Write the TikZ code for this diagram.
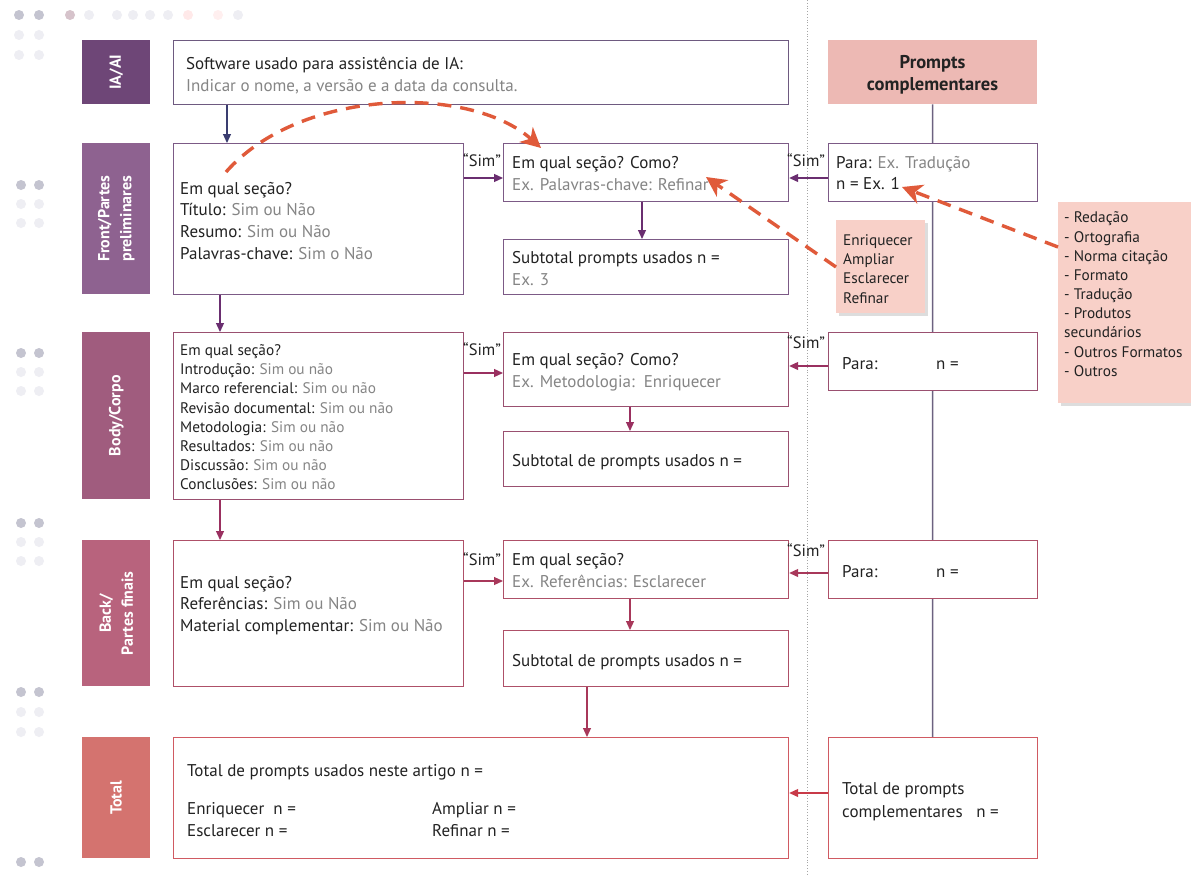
\documentclass[tikz,border=0pt]{standalone}
\usepackage{fontspec}
\setmainfont{PT Sans}
\usetikzlibrary{arrows.meta,shadows,backgrounds}
\definecolor{cIA}{HTML}{6E4677}
\definecolor{cFront}{HTML}{8E6290}
\definecolor{cBody}{HTML}{A05C7E}
\definecolor{cBack}{HTML}{B8637D}
\definecolor{cTotal}{HTML}{D4736F}
\definecolor{bIA}{HTML}{6E5A80}
\definecolor{bFront}{HTML}{7C5A86}
\definecolor{bBody}{HTML}{9A5070}
\definecolor{bBack}{HTML}{AE5068}
\definecolor{bTotal}{HTML}{D05A62}
\definecolor{aNavy}{HTML}{3A3D70}
\definecolor{aFront}{HTML}{6A2E70}
\definecolor{aBody}{HTML}{9A3060}
\definecolor{aBack}{HTML}{A8385A}
\definecolor{aTotal}{HTML}{C83A48}
\definecolor{pinkhead}{HTML}{EDB9B4}
\definecolor{pinkcall}{HTML}{F8D0C8}
\definecolor{grytxt}{HTML}{858585}
\definecolor{txtc}{HTML}{222222}
\definecolor{redarrow}{HTML}{E05A3A}
\definecolor{vline}{HTML}{6C6280}
\definecolor{dotc}{HTML}{C4C4D0}
\definecolor{dotf}{HTML}{EEEEF3}
\newcommand\gr[1]{\textcolor{grytxt}{#1}}
\begin{document}
\begin{tikzpicture}[x=1pt,y=-1pt,
 box/.style={draw, line width=1.2pt, fill=white, inner sep=0pt, anchor=north west},
 bar/.style={inner sep=0pt, anchor=north west, minimum width=68pt},
 barlbl/.style={rotate=90, text=white, font=\fontsize{16}{22}\selectfont\bfseries, align=center, inner sep=0pt},
 t/.style={anchor=base west, inner sep=0pt, font=\fontsize{17}{20}\selectfont, text=txtc},
 ts/.style={anchor=base west, inner sep=0pt, font=\fontsize{15.3}{18}\selectfont, text=txtc},
 conn/.style={line width=1.2pt, -{Triangle[length=9pt,width=8pt]}},
 redarr/.style={draw=redarrow, line width=3.4pt, dash pattern=on 14pt off 9pt, -{Stealth[length=20pt,width=20pt,inset=6pt]}},
 callout/.style={fill=pinkcall, inner sep=0pt, anchor=north west, drop shadow={shadow xshift=3pt, shadow yshift=-3pt, opacity=0.22, fill=black!60}},
 simlbl/.style={anchor=base west, inner sep=0pt, font=\fontsize{16.5}{19}\selectfont, text=txtc},
 dot/.style={fill=dotc, draw=none},
 fdot/.style={fill=dotf, draw=none}
]
\useasboundingbox (0,0) rectangle (1191,875);
\fill[white] (0,0) rectangle (1191,875);

% decorative dots
\foreach \yy in {185,353,523,692,862}{
  \fill[dot] (21,\yy) circle (5pt); \fill[dot] (39,\yy) circle (5pt);
}
\foreach \yy in {204,223,372,391,542,561,712,732}{
  \fill[fdot] (21,\yy) circle (5pt); \fill[fdot] (39,\yy) circle (5pt);
}
\fill[dot] (19,15) circle (5pt); \fill[dot] (39,15) circle (5pt);
\fill[fdot] (19,35) circle (5pt); \fill[fdot] (39,35) circle (5pt);
\fill[fdot] (19,55) circle (5pt); \fill[fdot] (39,55) circle (5pt);
\fill[dotc!70!pink] (70,15) circle (5pt);
\fill[fdot] (89,15) circle (5pt);
\fill[fdot] (117,15) circle (5pt); \fill[fdot] (133,15) circle (5pt);
\fill[fdot] (150,15) circle (5pt); \fill[fdot] (168,15) circle (5pt);
\fill[pink!35] (188,15) circle (5pt);
\fill[pink!25] (218,15) circle (5pt);
\fill[fdot] (238,15) circle (5pt);
\fill[white] (0,0) rectangle (260,10);

% dotted separator
\coordinate (sepTop) at (807,0);
\coordinate (sepBot) at (807,875);
\draw[gray!70, dotted, line width=0.8pt] (sepTop) -- (sepBot);

% left bars
\node[bar, fill=cIA, minimum height=64pt] (barIA) at (82,40) {};
\node[bar, fill=cFront, minimum height=151pt] (barFront) at (82,143) {};
\node[bar, fill=cBody, minimum height=167pt] (barBody) at (82,332) {};
\node[bar, fill=cBack, minimum height=146pt] (barBack) at (82,540) {};
\node[bar, fill=cTotal, minimum height=121pt] (barTotal) at (82,737) {};
\node[barlbl] (lIA) at (barIA.center) {IA/AI};
\node[barlbl] (lFront) at (barFront.center) {Front/Partes\\preliminares};
\node[barlbl] (lBody) at (barBody.center) {Body/Corpo};
\node[barlbl] (lBack) at (barBack.center) {Back/\\Partes finais};
\node[barlbl] (lTotal) at (barTotal.center) {Total};

% header right
\node[anchor=north west, fill=pinkhead, minimum width=209pt, minimum height=64pt, inner sep=0pt] (head) at (828,40) {};
\node[anchor=base, inner sep=0pt, font=\fontsize{18.5}{21}\selectfont\bfseries, text=txtc] (head1) at (932.5,68) {Prompts};
\node[anchor=base, inner sep=0pt, font=\fontsize{18.5}{21}\selectfont\bfseries, text=txtc] (head2) at (932.5,90) {complementares};

% boxes
\node[box, draw=bIA, minimum width=615pt, minimum height=64pt] (soft) at (173,40) {};
\node[box, draw=bFront, minimum width=290pt, minimum height=151pt] (front) at (173,143) {};
\node[box, draw=bFront, minimum width=285pt, minimum height=58pt] (frontq) at (503,143) {};
\node[box, draw=bFront, minimum width=285pt, minimum height=55pt] (frontsub) at (503,239) {};
\node[box, draw=bBody, minimum width=290pt, minimum height=167pt] (body) at (173,332) {};
\node[box, draw=bBody, minimum width=285pt, minimum height=74pt] (bodyq) at (503,332) {};
\node[box, draw=bBody, minimum width=285pt, minimum height=55pt] (bodysub) at (503,431) {};
\node[box, draw=bBack, minimum width=290pt, minimum height=146pt] (back) at (173,540) {};
\node[box, draw=bBack, minimum width=285pt, minimum height=58pt] (backq) at (503,540) {};
\node[box, draw=bBack, minimum width=285pt, minimum height=56pt] (backsub) at (503,630) {};
\node[box, draw=bTotal, minimum width=615pt, minimum height=121pt] (total) at (173,737) {};

% right column line and boxes
\coordinate (vtop) at (head.south);
\coordinate (vbot) at (932.5,737);
\draw[vline, line width=1.5pt] (vtop) -- (vbot);
\node[box, draw=bFront, minimum width=209pt, minimum height=58pt] (para1) at (828,143) {};
\node[box, draw=bBody, minimum width=209pt, minimum height=58pt] (para2) at (828,332) {};
\node[box, draw=bBack, minimum width=209pt, minimum height=58pt] (para3) at (828,540) {};
\node[box, draw=bTotal, minimum width=209pt, minimum height=121pt] (totr) at (828,737) {};

% texts: software
\node[t] (s1) at (186,70) {Software usado para assistência de IA:};
\node[t] (s2) at (186,91) {\gr{Indicar o nome, a versão e a data da consulta.}};
% front left
\node[t] (f1) at (180,194) {Em qual seção?};
\node[t] (f2) at (180,215) {Título: \gr{Sim ou Não}};
\node[t] (f3) at (180,237) {Resumo: \gr{Sim ou Não}};
\node[t] (f4) at (180,259) {Palavras-chave: \gr{Sim o Não}};
% front middle
\node[t] (fq1) at (512,168) {Em qual seção? Como?};
\node[t] (fq2) at (512,190) {\gr{Ex. Palavras-chave: Refinar}};
\node[t] (fs1) at (512,263) {Subtotal prompts usados n =};
\node[t] (fs2) at (512,285) {\gr{Ex. 3}};
% body left
\node[ts] (b1) at (180,355) {Em qual seção?};
\node[ts] (b2) at (180,374) {Introdução: \gr{Sim ou não}};
\node[ts] (b3) at (180,393) {Marco referencial: \gr{Sim ou não}};
\node[ts] (b4) at (180,413) {Revisão documental: \gr{Sim ou não}};
\node[ts] (b5) at (180,432) {Metodologia: \gr{Sim ou não}};
\node[ts] (b6) at (180,451) {Resultados: \gr{Sim ou não}};
\node[ts] (b7) at (180,470) {Discussão: \gr{Sim ou não}};
\node[ts] (b8) at (180,489) {Conclusões: \gr{Sim ou não}};
% body middle
\node[t] (bq1) at (512,365) {Em qual seção? Como?};
\node[t] (bq2) at (512,387) {\gr{Ex. Metodologia:\ \ Enriquecer}};
\node[t] (bs1) at (512,466) {Subtotal de prompts usados n =};
% back left
\node[t] (k1) at (180,588) {Em qual seção?};
\node[t] (k2) at (180,609) {Referências: \gr{Sim ou Não}};
\node[t] (k3) at (180,631) {Material complementar: \gr{Sim ou Não}};
% back middle
\node[t] (kq1) at (512,565) {Em qual seção?};
\node[t] (kq2) at (512,587) {\gr{Ex. Referências: Esclarecer}};
\node[t] (ks1) at (512,666) {Subtotal de prompts usados n =};
% total
\node[t] (tt1) at (187,776) {Total de prompts usados neste artigo n =};
\node[t] (tt2) at (187,814) {Enriquecer\ \ n =};
\node[t] (tt3) at (187,836) {Esclarecer n =};
\node[t] (tt4) at (432,814) {Ampliar n =};
\node[t] (tt5) at (432,836) {Refinar n =};
% right texts
\node[t] (p11) at (836,168) {Para: \gr{Ex. Tradução}};
\node[t] (p12) at (836,189) {n = Ex. 1};
\node[t] (p21) at (842,369) {Para:};
\node[t] (p22) at (936,369) {n =};
\node[t] (p31) at (842,577) {Para:};
\node[t] (p32) at (936,577) {n =};
\node[t] (tr1) at (842,794) {Total de prompts};
\node[t] (tr2) at (842,817) {complementares\ \ \ n =};

% Sim labels
\node[simlbl] (sim1) at (463,166) {“Sim”};
\node[simlbl] (sim2) at (463,355) {“Sim”};
\node[simlbl] (sim3) at (463,565) {“Sim”};
\node[simlbl] (sim4) at (787,166) {“Sim”};
\node[simlbl] (sim5) at (787,348) {“Sim”};
\node[simlbl] (sim6) at (787,556) {“Sim”};

% vertical connectors
\coordinate (c1) at (227,0);
\draw[conn, aNavy] (soft.south -| c1) -- (front.north -| c1);
\coordinate (c2) at (220,0);
\draw[conn, aFront] (front.south -| c2) -- (body.north -| c2);
\draw[conn, aBody] (body.south -| c2) -- (back.north -| c2);
\coordinate (c3) at (642,0);
\draw[conn, aFront] (frontq.south -| c3) -- (frontsub.north -| c3);
\coordinate (c4) at (630,0);
\draw[conn, aBody] (bodyq.south -| c4) -- (bodysub.north -| c4);
\draw[conn, aBack] (backq.south -| c4) -- (backsub.north -| c4);
\coordinate (c5) at (587,0);
\draw[conn, aBack] (backsub.south -| c5) -- (total.north -| c5);

% horizontal Sim connectors
\coordinate (h1) at (0,178);
\draw[conn, aFront] (front.east |- h1) -- (frontq.west |- h1);
\draw[conn, aFront] (para1.west |- h1) -- (frontq.east |- h1);
\coordinate (h2) at (0,373);
\draw[conn, aBody] (body.east |- h2) -- (bodyq.west |- h2);
\coordinate (h3) at (0,366);
\draw[conn, aBody] (para2.west |- h3) -- (bodyq.east |- h3);
\coordinate (h4) at (0,581);
\draw[conn, aBack] (back.east |- h4) -- (backq.west |- h4);
\coordinate (h5) at (0,573);
\draw[conn, aBack] (para3.west |- h5) -- (backq.east |- h5);
\coordinate (h6) at (0,793);
\draw[conn, aTotal] (totr.west |- h6) -- (total.east |- h6);

% callouts
\node[callout, minimum width=89pt, minimum height=93pt] (callEn) at (836,220) {};
\node[ts] (ce1) at (843,245) {Enriquecer};
\node[ts] (ce2) at (843,264) {Ampliar};
\node[ts] (ce3) at (843,283) {Esclarecer};
\node[ts] (ce4) at (843,303) {Refinar};
\node[callout, minimum width=140pt, minimum height=201pt] (callList) at (1058,202) {};
\node[ts] (cl1) at (1064,222) {- Redação};
\node[ts] (cl2) at (1064,242) {- Ortografia};
\node[ts] (cl3) at (1064,261) {- Norma citação};
\node[ts] (cl4) at (1064,280) {- Formato};
\node[ts] (cl5) at (1064,299) {- Tradução};
\node[ts] (cl6) at (1064,318) {- Produtos};
\node[ts] (cl7) at (1064,337) {secundários};
\node[ts] (cl8) at (1064,357) {- Outros Formatos};
\node[ts] (cl9) at (1064,376) {- Outros};

% red dashed arrows
\coordinate (r1s) at (226,172);
\coordinate (r1e) at (541,148);
\draw[redarr] (r1s) .. controls (300,88) and (470,84) .. (r1e);
\coordinate (r2e) at (706,177);
\draw[redarr] ([yshift=-47pt]callEn.north west) -- (r2e);
\coordinate (r3e) at (902,187);
\draw[redarr] ([yshift=-45pt]callList.north west) -- (r3e);
\end{tikzpicture}
\end{document}
